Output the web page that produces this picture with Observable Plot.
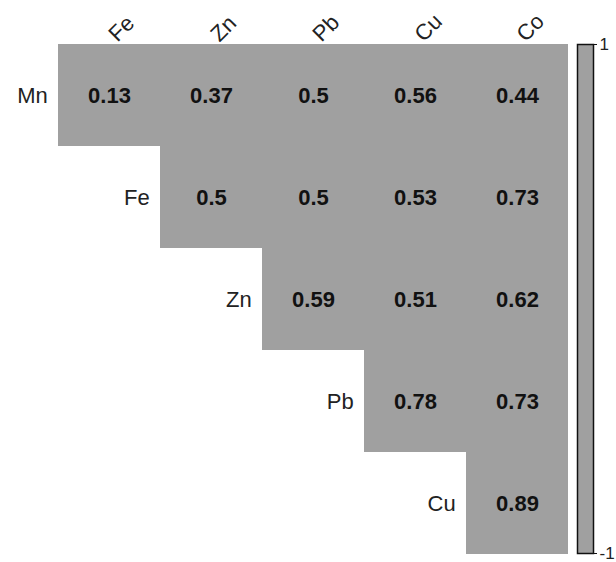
<!DOCTYPE html>
<html>
<head>
<meta charset="utf-8">
<script src="https://cdn.jsdelivr.net/npm/d3@7"></script>
<script src="https://cdn.jsdelivr.net/npm/@observablehq/plot@0.6"></script>
<style>
  html, body { margin: 0; padding: 0; background: #fff; }
  #wrap { position: relative; width: 616px; height: 562px; overflow: hidden; }
  #wrap svg { position: absolute; left: 0; top: 0; overflow: visible; }
</style>
</head>
<body>
<div id="wrap"></div>
<script>
// ---- data ----
const rowNames = ["Mn", "Fe", "Zn", "Pb", "Cu"];
const colNames = ["Fe", "Zn", "Pb", "Cu", "Co"];
const rowMn = [0.13, 0.37, 0.5, 0.56, 0.44];
const rowFe = [null, 0.5, 0.5, 0.53, 0.73];
const rowZn = [null, null, 0.59, 0.51, 0.62];
const rowPb = [null, null, null, 0.78, 0.73];
const rowCu = [null, null, null, null, 0.89];
const colorbarTicks = [-1, 1];

const matrix = [rowMn, rowFe, rowZn, rowPb, rowCu];
const cells = [];
matrix.forEach((vals, i) => vals.forEach((v, j) => {
  if (v != null) cells.push({row: rowNames[i], col: colNames[j], value: v});
}));

const W = 616, H = 562;
const gridLeft = 57, gridRight = 569, gridTop = 43, gridBottom = 555;
const cw = (gridRight - gridLeft) / colNames.length;
const ch = (gridBottom - gridTop) / rowNames.length;
const xDomain = [rowNames[0], ...colNames];
const font = "Liberation Sans, Arial, sans-serif";

const main = Plot.plot({
  width: W, height: H,
  style: {fontFamily: font, background: "transparent"},
  x: {type: "band", domain: xDomain, range: [gridLeft - cw, gridRight], padding: 0, axis: null},
  y: {type: "band", domain: rowNames, range: [gridTop, gridBottom], padding: 0, axis: null},
  marks: [
    Plot.cell(cells, {x: "col", y: "row", fill: "#a0a0a0", inset: 0}),
    Plot.text(cells, {x: "col", y: "row", text: d => String(d.value),
      fontSize: 22, fontWeight: "bold", fill: "#111"}),
    Plot.text(rowNames, {x: d => d, y: d => d, text: d => d, textAnchor: "end",
      dx: cw / 2 - 11, fontSize: 22, fill: "#222"}),
    Plot.text(colNames, {x: d => d, y: () => rowNames[0], text: d => d,
      textAnchor: "start", lineAnchor: "bottom", rotate: -45,
      dx: 8, dy: -ch / 2 - 1.5, fontSize: 22, fill: "#222"})
  ]
});

const bar = Plot.plot({
  width: W, height: H,
  marginLeft: 577, marginRight: W - 593, marginTop: 44, marginBottom: H - 553,
  style: {fontFamily: font, background: "transparent"},
  x: {domain: [0, 1], axis: null},
  y: {domain: d3.extent(colorbarTicks), axis: null},
  marks: [
    Plot.frame({fill: "#a0a0a0", stroke: "#111", strokeWidth: 1.5}),
    Plot.axisY({anchor: "right", ticks: colorbarTicks, tickSize: 3,
      tickFormat: () => "", stroke: "#111"}),
    Plot.text(colorbarTicks, {y: d => d, frameAnchor: "right", text: d => String(d),
      textAnchor: "start", dx: 6, dy: 0, fontSize: 17, fill: "#222"})
  ]
});

const wrap = document.getElementById("wrap");
wrap.appendChild(main);
wrap.appendChild(bar);
</script>
</body>
</html>
